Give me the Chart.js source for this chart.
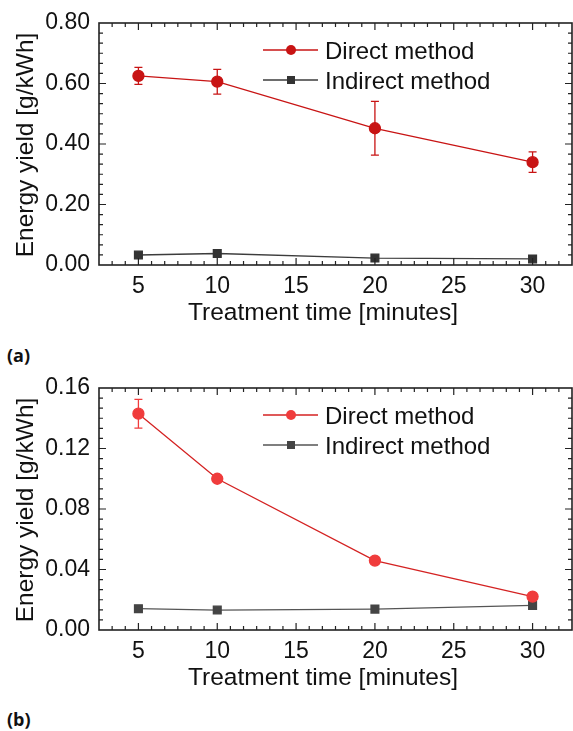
<!DOCTYPE html>
<html>
<head>
<meta charset="utf-8">
<script src="https://cdn.jsdelivr.net/npm/chart.js@4/dist/chart.umd.min.js"></script>
<style>
  body { margin: 0; background: #fff; }
  .panel { position: absolute; left: 0; width: 573px; height: 340px; }
  .tag { position: absolute; left: 7px; font: bold 18px "Open Sans", "Noto Sans", sans-serif; line-height: 20px; color: #111; }
</style>
</head>
<body>
<div class="panel" style="top:0"><canvas id="chartA" width="573" height="340"></canvas></div>
<div class="tag" style="top:345px">(a)</div>
<div class="panel" style="top:365px"><canvas id="chartB" width="573" height="340"></canvas></div>
<div class="tag" style="top:709px">(b)</div>

<script>
// Data
const timeMinutes = [5, 10, 20, 30];
const xTicks = [5, 10, 15, 20, 25, 30];

const directA      = [0.625, 0.606, 0.452, 0.340];
const directAErr   = [0.028, 0.041, 0.089, 0.034];
const indirectA    = [0.033, 0.038, 0.023, 0.020];
const yTicksA      = [0, 0.2, 0.4, 0.6, 0.8];

const directB      = [0.143, 0.100, 0.0459, 0.0221];
const directBErr   = [0.0095, null, null, null];
const indirectB    = [0.0141, 0.0132, 0.0138, 0.0163];
const yTicksB      = [0, 0.04, 0.08, 0.12, 0.16];

const FONT = '"Liberation Sans", Arial, sans-serif';
const INK = '#111';

// Frame with inward major + minor ticks on all four sides
const frameTicks = {
  id: 'frameTicks',
  afterDraw(chart, args, opts) {
    const { ctx, chartArea: a, scales: { x, y } } = chart;
    ctx.save();
    ctx.strokeStyle = '#222';
    ctx.lineWidth = 1.2;
    const marks = (scale, major, n, fn) => {
      const step = major / n;
      for (let i = Math.ceil(scale.min / step - 1e-9); i * step <= scale.max + 1e-9; i++) {
        const v = i * step;
        const p = scale.getPixelForValue(v);
        const isMajor = Math.abs(v / major - Math.round(v / major)) < 1e-6;
        fn(p, isMajor ? 7 : 4);
      }
    };
    ctx.beginPath();
    marks(x, opts.xMajor, 6, (p, len) => {
      if (p <= a.left + 1 || p >= a.right - 1) return;
      ctx.moveTo(p, a.bottom); ctx.lineTo(p, a.bottom - len);
      ctx.moveTo(p, a.top); ctx.lineTo(p, a.top + len);
    });
    marks(y, opts.yMajor, 6, (p, len) => {
      if (p <= a.top + 1 || p >= a.bottom - 1) return;
      ctx.moveTo(a.left, p); ctx.lineTo(a.left + len, p);
      ctx.moveTo(a.right, p); ctx.lineTo(a.right - len, p);
    });
    ctx.stroke();
    ctx.lineWidth = 1.6;
    ctx.strokeRect(a.left, a.top, a.right - a.left, a.bottom - a.top);
    ctx.restore();
  }
};

// Vertical error bars with caps, drawn behind the markers
const errorBars = {
  id: 'errorBars',
  beforeDatasetsDraw(chart) {
    const { ctx, scales: { x, y } } = chart;
    ctx.save();
    chart.data.datasets.forEach(ds => {
      if (!ds.errors) return;
      ctx.strokeStyle = ds.pointBackgroundColor;
      ctx.lineWidth = 1.3;
      ds.data.forEach((pt, i) => {
        const e = ds.errors[i];
        if (!e) return;
        const px = x.getPixelForValue(pt.x);
        const top = y.getPixelForValue(pt.y + e);
        const bot = y.getPixelForValue(pt.y - e);
        ctx.beginPath();
        ctx.moveTo(px, top); ctx.lineTo(px, bot);
        ctx.moveTo(px - 4, top); ctx.lineTo(px + 4, top);
        ctx.moveTo(px - 4, bot); ctx.lineTo(px + 4, bot);
        ctx.stroke();
      });
    });
    ctx.restore();
  }
};

// Legend inside the plot (line + marker) and the axis titles
const legendAndTitles = {
  id: 'legendAndTitles',
  afterDraw(chart) {
    const { ctx, chartArea: a } = chart;
    ctx.save();
    ctx.fillStyle = INK;
    ctx.font = '24.5px ' + FONT;
    ctx.textAlign = 'center';
    ctx.textBaseline = 'alphabetic';
    ctx.fillText('Treatment time [minutes]', 323, 320);
    ctx.translate(33, (a.top + a.bottom) / 2 + 1);
    ctx.rotate(-Math.PI / 2);
    ctx.fillText('Energy yield [g/kWh]', 0, 0);
    ctx.restore();

    ctx.save();
    chart.data.datasets.forEach((ds, i) => {
      const ly = 50 + i * 30;
      ctx.strokeStyle = ds.borderColor;
      ctx.lineWidth = 1.3;
      ctx.beginPath();
      ctx.moveTo(263, ly); ctx.lineTo(318, ly);
      ctx.stroke();
      ctx.fillStyle = ds.pointBackgroundColor;
      if (ds.pointStyle === 'rect') {
        ctx.fillRect(291 - 4, ly - 4, 8, 8);
      } else {
        ctx.beginPath();
        ctx.arc(291, ly, 5, 0, Math.PI * 2);
        ctx.fill();
      }
      ctx.fillStyle = INK;
      ctx.font = '24px ' + FONT;
      ctx.textAlign = 'left';
      ctx.fillText(ds.label, 325, ly + 8.5);
    });
    ctx.restore();
  }
};

function makeChart(id, direct, directErr, indirect, yTicks, colors) {
  const yMax = yTicks[yTicks.length - 1];
  const yMajor = yTicks[1] - yTicks[0];
  const pts = arr => timeMinutes.map((t, i) => ({ x: t, y: arr[i] }));
  return new Chart(document.getElementById(id), {
    type: 'line',
    data: {
      datasets: [
        {
          label: 'Direct method', data: pts(direct), errors: directErr,
          borderColor: colors.directLine, pointBackgroundColor: colors.direct,
          pointBorderColor: colors.direct, pointStyle: 'circle', pointRadius: 5.5, borderWidth: 1.3
        },
        {
          label: 'Indirect method', data: pts(indirect),
          borderColor: colors.indirectLine, pointBackgroundColor: colors.indirect,
          pointBorderColor: colors.indirect, pointStyle: 'rect', pointRadius: 5.5, borderWidth: 1.3
        }
      ]
    },
    options: {
      responsive: false,
      animation: false,
      events: [],
      layout: { autoPadding: false, padding: { top: 23, right: 1, left: 0, bottom: 0 } },
      plugins: { legend: { display: false }, tooltip: { enabled: false }, frameTicks: { xMajor: 5, yMajor } },
      scales: {
        x: {
          type: 'linear', min: 2.5, max: 32.5,
          grid: { display: false, drawTicks: false }, border: { display: false },
          afterBuildTicks: s => { s.ticks = xTicks.map(v => ({ value: v })); },
          afterFit: s => { s.height = 75; s.paddingLeft = 0; s.paddingRight = 0; },
          ticks: { padding: 8, color: INK, font: { family: FONT, size: 23 } }
        },
        y: {
          min: 0, max: yMax,
          grid: { display: false, drawTicks: false }, border: { display: false },
          afterBuildTicks: s => { s.ticks = yTicks.map(v => ({ value: v })); },
          afterFit: s => { s.width = 99; s.paddingTop = 0; s.paddingBottom = 0; },
          ticks: { padding: 9, color: INK, font: { family: FONT, size: 23 }, callback: v => v.toFixed(2) }
        }
      }
    },
    plugins: [errorBars, frameTicks, legendAndTitles]
  });
}

makeChart('chartA', directA, directAErr, indirectA, yTicksA,
  { direct: '#c81414', directLine: '#c81414', indirect: '#333333', indirectLine: '#3c3c3c' });
makeChart('chartB', directB, directBErr, indirectB, yTicksB,
  { direct: '#f03c3c', directLine: '#d42222', indirect: '#444444', indirectLine: '#555555' });
</script>
</body>
</html>
